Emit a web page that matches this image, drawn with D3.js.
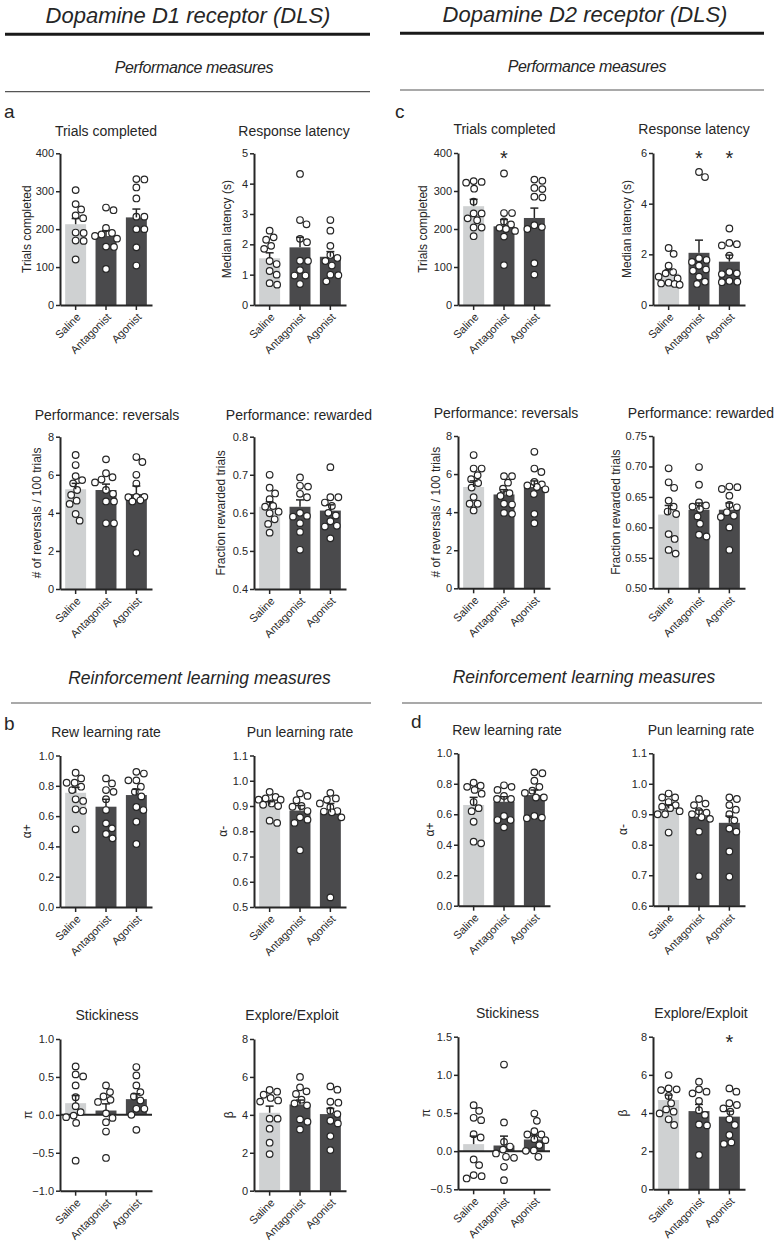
<!DOCTYPE html>
<html><head><meta charset="utf-8">
<script src="https://cdnjs.cloudflare.com/ajax/libs/d3/7.8.5/d3.min.js"></script>
<style>
body{margin:0;background:#fff}
svg{display:block}
text{font-family:"Liberation Sans",Arial,Helvetica,sans-serif;fill:#262626}
</style>
</head><body><svg id="chart" width="777" height="1244"></svg>
<script>
// ---------------- DATA ----------------
const groups = ["Saline", "Antagonist", "Agonist"];

// D1 (DLS) performance
const d1TrialsPts = [[303,252,266,229,236,191,190,170,169,120],[250,257,203,190,186,182,175,153,154,95],[331,332,310,281,233,233,200,200,152,104]];
const d1TrialsMean = [213,182,231];
const d1TrialsSem = [15,14,22];
const d1TrialsTicks = [0,100,200,300,400];

const d1LatPts = [[2.45,2.23,2.15,1.95,1.85,1.45,1.35,1.12,1.0,0.72,0.67],[4.32,2.66,2.8,2.18,2.07,1.46,1.45,1.15,0.97,0.97,0.69],[2.8,2.45,1.95,1.65,1.55,1.45,1.3,1.0,0.98,0.78]];
const d1LatMean = [1.54,1.9,1.59];
const d1LatSem = [0.18,0.33,0.17];
const d1LatTicks = [0,1,2,3,4,5];

const d1RevPts = [[7.04,6.51,5.93,5.72,5.55,5.2,4.94,4.64,4.47,3.94,3.59],[6.81,6.08,5.87,5.75,5.6,5.2,5.0,4.6,4.6,3.45,3.45],[6.93,6.67,6.0,5.54,4.84,4.84,4.82,4.66,4.6,1.9]];
const d1RevMean = [5.24,5.2,4.99];
const d1RevSem = [0.31,0.31,0.42];
const d1RevTicks = [0,2,4,6,8];

const d1RewPts = [[0.70,0.666,0.651,0.636,0.618,0.616,0.603,0.599,0.583,0.571,0.548],[0.693,0.669,0.671,0.65,0.641,0.6,0.592,0.59,0.573,0.55,0.503],[0.72,0.641,0.641,0.627,0.618,0.6,0.593,0.578,0.566,0.564,0.533]];
const d1RewMean = [0.616,0.616,0.606];
const d1RewSem = [0.013,0.018,0.015];
const d1RewTicks = [0.4,0.5,0.6,0.7,0.8];

// D2 (DLS) performance
const d2TrialsPts = [[326,324,322,306,272,241,241,228,223,204,204,181],[346,242,242,220,212,203,200,195,180,105],[330,327,308,305,285,283,210,205,200,110,80]];
const d2TrialsMean = [260,207,229];
const d2TrialsSem = [18,18,26];
const d2TrialsTicks = [0,100,200,300,400];

const d2LatPts = [[2.25,2.02,1.55,1.3,1.25,1.12,1.05,0.88,0.85,0.83,0.8],[5.25,5.05,1.85,1.78,1.7,1.55,1.4,1.35,1.12,0.92,0.83],[3.02,2.45,2.4,2.35,1.95,1.3,1.25,1.22,0.95,0.92,0.9]];
const d2LatMean = [1.25,2.06,1.71];
const d2LatSem = [0.15,0.5,0.26];
const d2LatTicks = [0,2,4,6];

const d2RevPts = [[7.0,6.29,6.29,5.94,5.73,5.53,5.29,4.79,4.44,4.44,4.09],[5.89,5.89,5.55,5.23,5.0,4.85,4.4,4.44,3.91,3.96],[7.17,6.29,6.11,5.59,5.46,5.4,5.32,5.2,4.95,3.91,3.42]];
const d2RevMean = [5.32,4.93,5.32];
const d2RevSem = [0.32,0.25,0.32];
const d2RevTicks = [0,2,4,6,8];

const d2RewPts = [[0.697,0.665,0.674,0.644,0.634,0.626,0.622,0.589,0.581,0.563,0.557],[0.699,0.67,0.641,0.634,0.636,0.63,0.618,0.606,0.585,0.588],[0.667,0.663,0.666,0.652,0.637,0.633,0.625,0.619,0.617,0.6,0.563]];
const d2RewMean = [0.621,0.629,0.629];
const d2RewSem = [0.015,0.011,0.011];
const d2RewTicks = [0.50,0.55,0.60,0.65,0.70,0.75];

// D1 reinforcement learning
const d1APlusPts = [[0.886,0.849,0.82,0.82,0.794,0.772,0.711,0.70,0.645,0.635,0.513],[0.849,0.816,0.772,0.76,0.712,0.64,0.552,0.519,0.482,0.453],[0.892,0.881,0.836,0.836,0.794,0.76,0.73,0.66,0.64,0.563,0.416]];
const d1APlusMean = [0.754,0.662,0.739];
const d1APlusSem = [0.036,0.049,0.038];
const d1APlusTicks = [0,0.2,0.4,0.6,0.8,1.0];

const d1AMinusPts = [[0.956,0.936,0.93,0.925,0.925,0.91,0.905,0.9,0.842,0.833],[0.95,0.94,0.923,0.9,0.897,0.88,0.855,0.846,0.833,0.725],[0.952,0.93,0.925,0.91,0.895,0.88,0.878,0.875,0.855,0.538]];
const d1AMinusMean = [0.905,0.882,0.875];
const d1AMinusSem = [0.012,0.02,0.035];
const d1AMinusTicks = [0.5,0.6,0.7,0.8,0.9,1.0,1.1];

const d1StickPts = [[0.639,0.388,0.533,0.507,0.233,0.115,0.035,-0.03,-0.01,-0.106,-0.604],[0.388,0.3,0.242,0.198,0.17,0.02,-0.04,-0.097,-0.22,-0.568],[0.63,0.52,0.388,0.3,0.242,0.19,0.08,0.08,0.0,-0.198]];
const d1StickMean = [0.154,0.057,0.207];
const d1StickSem = [0.1,0.088,0.071];
const d1StickTicks = [-1.0,-0.5,0.0,0.5,1.0];

const d1BetaPts = [[5.31,5.22,5.06,4.89,4.76,4.7,3.8,3.8,3.27,2.53,1.93],[6.0,5.45,5.24,5.1,4.8,4.6,4.5,3.76,3.64,3.23],[5.5,5.33,4.69,4.64,4.22,4.04,3.69,3.55,2.88,2.14]];
const d1BetaMean = [4.11,4.55,4.04];
const d1BetaSem = [0.35,0.23,0.3];
const d1BetaTicks = [0,2,4,6,8];

// D2 reinforcement learning
const d2APlusPts = [[0.807,0.787,0.78,0.76,0.735,0.68,0.64,0.62,0.551,0.42,0.409],[0.79,0.78,0.76,0.72,0.70,0.70,0.589,0.562,0.562,0.514],[0.875,0.869,0.82,0.78,0.755,0.74,0.71,0.71,0.589,0.578,0.574]];
const d2APlusMean = [0.661,0.682,0.726];
const d2APlusSem = [0.05,0.033,0.033];
const d2APlusTicks = [0,0.2,0.4,0.6,0.8,1.0];

const d2AMinusPts = [[0.968,0.955,0.955,0.94,0.93,0.925,0.92,0.91,0.90,0.90,0.84],[0.95,0.935,0.93,0.91,0.905,0.9,0.89,0.885,0.843,0.697],[0.955,0.95,0.93,0.915,0.9,0.88,0.853,0.843,0.778,0.695]];
const d2AMinusMean = [0.919,0.892,0.872];
const d2AMinusSem = [0.011,0.022,0.022];
const d2AMinusTicks = [0.6,0.7,0.8,0.9,1.0,1.1];

const d2StickPts = [[0.603,0.528,0.437,0.406,0.223,0.179,-0.109,-0.183,-0.314,-0.328,-0.358],[1.135,0.376,0.122,0.06,0.02,-0.03,-0.074,-0.087,-0.205,-0.38],[0.493,0.397,0.262,0.218,0.218,0.157,0.144,0.079,0.01,0.004,-0.074]];
const d2StickMean = [0.092,0.074,0.153];
const d2StickSem = [0.105,0.123,0.057];
const d2StickTicks = [-0.5,0.0,0.5,1.0,1.5];

const d2BetaPts = [[5.99,5.29,5.24,5.2,4.89,4.51,4.19,4.07,3.98,3.67,3.37],[5.64,5.24,5.12,5.03,4.63,4.15,3.9,3.4,3.35,1.8],[5.29,5.12,4.51,4.42,4.24,4.07,3.67,3.37,2.85,2.46,2.38]];
const d2BetaMean = [4.68,4.1,3.81];
const d2BetaSem = [0.26,0.35,0.29];
const d2BetaTicks = [0,2,4,6,8];

// ---------------- LAYOUT ----------------
const colX = [60, 254, 458, 653];
const plotW = 92;
const rowSpan = {
  d1: [[153.3,305],[436.7,589],[755.5,907],[1039,1190.7]],
  d2: [[153,305],[436,588.3],[753.3,905.7],[1036.7,1189.3]]
};
const titleY = {d1:[136,420,737,1020], d2:[134,418,735,1018]};
const titleX = [[106,294,504.5,694],[107,299,506,701],[106,300,507,701],[107,292,507.5,701]];

const panels = [
  {pts:d1TrialsPts, mean:d1TrialsMean, sem:d1TrialsSem, ticks:d1TrialsTicks, dec:0, title:"Trials completed", ylab:"Trials completed", row:0, col:0, ylOff:-29, stars:[]},
  {pts:d1LatPts, mean:d1LatMean, sem:d1LatSem, ticks:d1LatTicks, dec:0, title:"Response latency", ylab:"Median latency (s)", row:0, col:1, ylOff:-23, stars:[]},
  {pts:d2TrialsPts, mean:d2TrialsMean, sem:d2TrialsSem, ticks:d2TrialsTicks, dec:0, title:"Trials completed", ylab:"Trials completed", row:0, col:2, ylOff:-31, stars:[1]},
  {pts:d2LatPts, mean:d2LatMean, sem:d2LatSem, ticks:d2LatTicks, dec:0, title:"Response latency", ylab:"Median latency (s)", row:0, col:3, ylOff:-22, stars:[1,2]},
  {pts:d1RevPts, mean:d1RevMean, sem:d1RevSem, ticks:d1RevTicks, dec:0, title:"Performance: reversals", ylab:"# of reversals / 100 trials", row:1, col:0, ylOff:-19, stars:[]},
  {pts:d1RewPts, mean:d1RewMean, sem:d1RewSem, ticks:d1RewTicks, dec:1, title:"Performance: rewarded", ylab:"Fraction rewarded trials", row:1, col:1, ylOff:-29, stars:[]},
  {pts:d2RevPts, mean:d2RevMean, sem:d2RevSem, ticks:d2RevTicks, dec:0, title:"Performance: reversals", ylab:"# of reversals / 100 trials", row:1, col:2, ylOff:-18, stars:[]},
  {pts:d2RewPts, mean:d2RewMean, sem:d2RewSem, ticks:d2RewTicks, dec:2, title:"Performance: rewarded", ylab:"Fraction rewarded trials", row:1, col:3, ylOff:-33, stars:[]},
  {pts:d1APlusPts, mean:d1APlusMean, sem:d1APlusSem, ticks:d1APlusTicks, dec:1, title:"Rew learning rate", ylab:"α+", row:2, col:0, ylOff:-29, stars:[]},
  {pts:d1AMinusPts, mean:d1AMinusMean, sem:d1AMinusSem, ticks:d1AMinusTicks, dec:1, title:"Pun learning rate", ylab:"α-", row:2, col:1, ylOff:-27, stars:[]},
  {pts:d2APlusPts, mean:d2APlusMean, sem:d2APlusSem, ticks:d2APlusTicks, dec:1, title:"Rew learning rate", ylab:"α+", row:2, col:2, ylOff:-24, stars:[]},
  {pts:d2AMinusPts, mean:d2AMinusMean, sem:d2AMinusSem, ticks:d2AMinusTicks, dec:1, title:"Pun learning rate", ylab:"α-", row:2, col:3, ylOff:-26, stars:[]},
  {pts:d1StickPts, mean:d1StickMean, sem:d1StickSem, ticks:d1StickTicks, dec:1, title:"Stickiness", ylab:"π", row:3, col:0, ylOff:-28, stars:[]},
  {pts:d1BetaPts, mean:d1BetaMean, sem:d1BetaSem, ticks:d1BetaTicks, dec:0, title:"Explore/Exploit", ylab:"β", row:3, col:1, ylOff:-21, stars:[]},
  {pts:d2StickPts, mean:d2StickMean, sem:d2StickSem, ticks:d2StickTicks, dec:1, title:"Stickiness", ylab:"π", row:3, col:2, ylOff:-28, stars:[]},
  {pts:d2BetaPts, mean:d2BetaMean, sem:d2BetaSem, ticks:d2BetaTicks, dec:0, title:"Explore/Exploit", ylab:"β", row:3, col:3, ylOff:-26, stars:[2]}
];

const lightBar = "#cfd1d2", darkBar = "#4a4a4c", ink = "#262626";

const svg = d3.select("#chart");

// ---------------- HEADERS ----------------
const hdr = svg.append("g");
[["Dopamine D1 receptor (DLS)",188,23,5,370,34.3,91.7,"Performance measures",194,72.5],
 ["Dopamine D2 receptor (DLS)",585,22,400,764,33.3,90,"Performance measures",587,71.5]].forEach(h=>{
  hdr.append("text").attr("x",h[1]).attr("y",h[2]).attr("text-anchor","middle")
    .style("font-size","22px").style("font-style","italic").text(h[0]);
  hdr.append("line").attr("x1",h[3]).attr("x2",h[4]).attr("y1",h[5]).attr("y2",h[5])
    .attr("stroke","#1a1a1a").attr("stroke-width",3);
  hdr.append("text").attr("x",h[8]).attr("y",h[9]).attr("text-anchor","middle")
    .style("font-size","16px").style("font-style","italic").style("letter-spacing","-0.4px").text(h[7]);
  hdr.append("line").attr("x1",h[3]).attr("x2",h[4]).attr("y1",h[6]).attr("y2",h[6])
    .attr("stroke","#555").attr("stroke-width",1.2);
});
[["Reinforcement learning measures",199.5,684,11,371,703],["Reinforcement learning measures",584,683,402,762,703]].forEach(h=>{
  hdr.append("text").attr("x",h[1]).attr("y",h[2]).attr("text-anchor","middle")
    .style("font-size","17.5px").style("font-style","italic").text(h[0]);
  hdr.append("line").attr("x1",h[3]).attr("x2",h[4]).attr("y1",h[5]).attr("y2",h[5])
    .attr("stroke","#555").attr("stroke-width",1.2);
});
[["a",4,118],["c",395,118],["b",4,730],["d",411,728]].forEach(l=>{
  hdr.append("text").attr("x",l[1]).attr("y",l[2]).style("font-size","19px").text(l[0]);
});

// ---------------- PANELS ----------------
// simple dodge layout, spread limited to +/- maxDx around the group centre
function swarm(vals, y, cx, minD, maxDx){
  const items = vals.map((v,i)=>({v, py:y(v)})).sort((a,b)=>a.py-b.py);
  const placed = [];
  items.forEach(p=>{
    let bestX = cx, bestScore = -1;
    for(let k=0;k<=maxDx*4;k++){
      const dx = (k%2===1 ? 1 : -1) * Math.ceil(k/2) * 0.5;
      const x = cx + dx;
      const dmin = placed.length ? d3.min(placed, q=>Math.hypot(q.px-x, q.py-p.py)) : Infinity;
      if(dmin >= minD){ bestX = x; bestScore = Infinity; break; }
      if(dmin > bestScore){ bestScore = dmin; bestX = x; }
    }
    p.px = bestX;
    placed.push(p);
  });
  return placed;
}

panels.forEach(p=>{
  const side = p.col < 2 ? "d1" : "d2";
  const [top,bottom] = rowSpan[side][p.row];
  const x0 = colX[p.col];
  const g = svg.append("g");
  const dom = [p.ticks[0], p.ticks[p.ticks.length-1]];
  const y = d3.scaleLinear().domain(dom).range([bottom, top]);
  const x = d3.scaleBand().domain(groups).range([x0, x0+plotW]).paddingInner(0.31).paddingOuter(0.17);
  const base = y(Math.max(dom[0], 0));

  // title
  g.append("text").attr("x", titleX[p.row][p.col]).attr("y", titleY[side][p.row])
    .attr("text-anchor","middle").style("font-size","14px").text(p.title);

  // bars
  g.selectAll("rect.bar").data(groups).join("rect")
    .attr("x", d=>x(d)).attr("width", x.bandwidth())
    .attr("y", (d,i)=>Math.min(y(p.mean[i]), base))
    .attr("height", (d,i)=>Math.abs(base - y(p.mean[i])))
    .attr("fill", (d,i)=> i===0 ? lightBar : darkBar);

  // zero line when domain goes negative
  if(dom[0] < 0){
    g.append("line").attr("x1",x0).attr("x2",x0+plotW).attr("y1",y(0)).attr("y2",y(0))
      .attr("stroke",ink).attr("stroke-width",2);
  }

  // points
  groups.forEach((gr,i)=>{
    const cx = x(gr) + x.bandwidth()/2;
    const sw = swarm(p.pts[i], y, cx, 7.6, 11);
    g.selectAll(null).data(sw).join("circle")
      .attr("cx", d=>d.px).attr("cy", d=>d.py).attr("r",3.3)
      .attr("fill","#fff").attr("stroke",ink).attr("stroke-width",1.2);
  });

  // error bars (mean + SEM)
  groups.forEach((gr,i)=>{
    const cx = x(gr) + x.bandwidth()/2;
    const yt = y(p.mean[i] + p.sem[i]);
    g.append("line").attr("x1",cx).attr("x2",cx).attr("y1",y(p.mean[i])).attr("y2",yt)
      .attr("stroke",ink).attr("stroke-width",1.5);
    g.append("line").attr("x1",cx-4).attr("x2",cx+4).attr("y1",yt).attr("y2",yt)
      .attr("stroke",ink).attr("stroke-width",1.5);
  });

  // stars
  p.stars.forEach(i=>{
    const cx = x(groups[i]) + x.bandwidth()/2;
    g.append("text").attr("x",cx).attr("y",top+12).attr("text-anchor","middle")
      .style("font-size","20px").text("*");
  });

  // y axis
  const yAx = g.append("g").attr("transform",`translate(${x0},0)`)
    .call(d3.axisLeft(y).tickValues(p.ticks).tickSize(4).tickSizeOuter(0).tickPadding(2)
      .tickFormat(d3.format(`.${p.dec}f`)));
  // x axis
  const xAx = g.append("g").attr("transform",`translate(0,${bottom})`)
    .call(d3.axisBottom(x).tickSize(5).tickSizeOuter(0));
  [yAx,xAx].forEach(a=>{
    a.select(".domain").attr("stroke",ink).attr("stroke-width",2);
    a.selectAll(".tick line").attr("stroke",ink).attr("stroke-width",1.5);
    a.selectAll("text").style("font-size","11px").style("font-family",'"Liberation Sans",Arial,sans-serif')
      .attr("fill",null).style("fill",ink);
  });
  xAx.selectAll(".tick text").attr("x",0).attr("y",0).attr("dy","0.35em")
    .attr("transform","translate(3,10) rotate(-45)").style("text-anchor","end");

  // y label
  g.append("text").attr("transform",`translate(${x0 + p.ylOff},${(top+bottom)/2}) rotate(-90)`)
    .attr("text-anchor","middle").style("font-size","12px").text(p.ylab);
});
</script>
</body></html>
